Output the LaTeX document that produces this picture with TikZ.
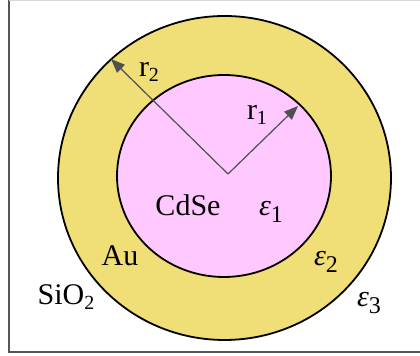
\documentclass[tikz,border=0pt]{standalone}
\usepackage{fontspec}
\setmainfont{Liberation Serif}
\usepackage{tikz}
\usetikzlibrary{arrows.meta}
\definecolor{shellyellow}{RGB}{240,222,118}
\definecolor{corepink}{RGB}{255,200,255}
\definecolor{framegray}{RGB}{85,85,85}
\definecolor{arrowgray}{RGB}{80,80,80}
\newcommand{\epsl}[1]{\textit{ε}\raisebox{-0.45ex}{\fontsize{12}{12}\selectfont #1}}
\newcommand{\lowsub}[1]{\raisebox{-0.35ex}{\fontsize{10}{10}\selectfont #1}}

\begin{document}
\begin{tikzpicture}[x=0.5pt, y=-0.5pt, lbl/.style={inner sep=0pt, font=\fontsize{15}{18}\selectfont}, radius/.style={-{Triangle[length=7pt,width=5.5pt]}, arrowgray, line width=0.6pt}]
\useasboundingbox (0,0) rectangle (420,356);
\draw[framegray, line width=1pt] (9,0) -- (9,352) -- (440,352);
\draw[gray!30, line width=0.5pt] (9,0.3) -- (440,0.3);
% shell and core
\filldraw[fill=shellyellow, draw=black, line width=0.9pt] (224.5,178) ellipse [x radius=166.5, y radius=162];
\filldraw[fill=corepink, draw=black, line width=0.9pt] (224,176) ellipse [x radius=107, y radius=101];
% radii
\coordinate (o) at (228,174);
\coordinate (r1end) at (298,106);
\coordinate (r2end) at (111,59);
\draw[radius] (o) -- (r1end);
\draw[radius] (o) -- (r2end);
\node[lbl] (r2) at (149,72) {r\lowsub{2}};
\node[lbl] (r1) at (257,115) {r\lowsub{1}};
% materials
\node[lbl] (cdse) at (188,205) {CdSe};
\node[lbl] (e1) at (271,212) {\epsl{1}};
\node[lbl] (au) at (120,256) {Au};
\node[lbl] (e2) at (326,262) {\epsl{2}};
\node[lbl] (sio2) at (66,297) {SiO\lowsub{2}};
\node[lbl] (e3) at (369,303) {\epsl{3}};
\end{tikzpicture}
\end{document}
